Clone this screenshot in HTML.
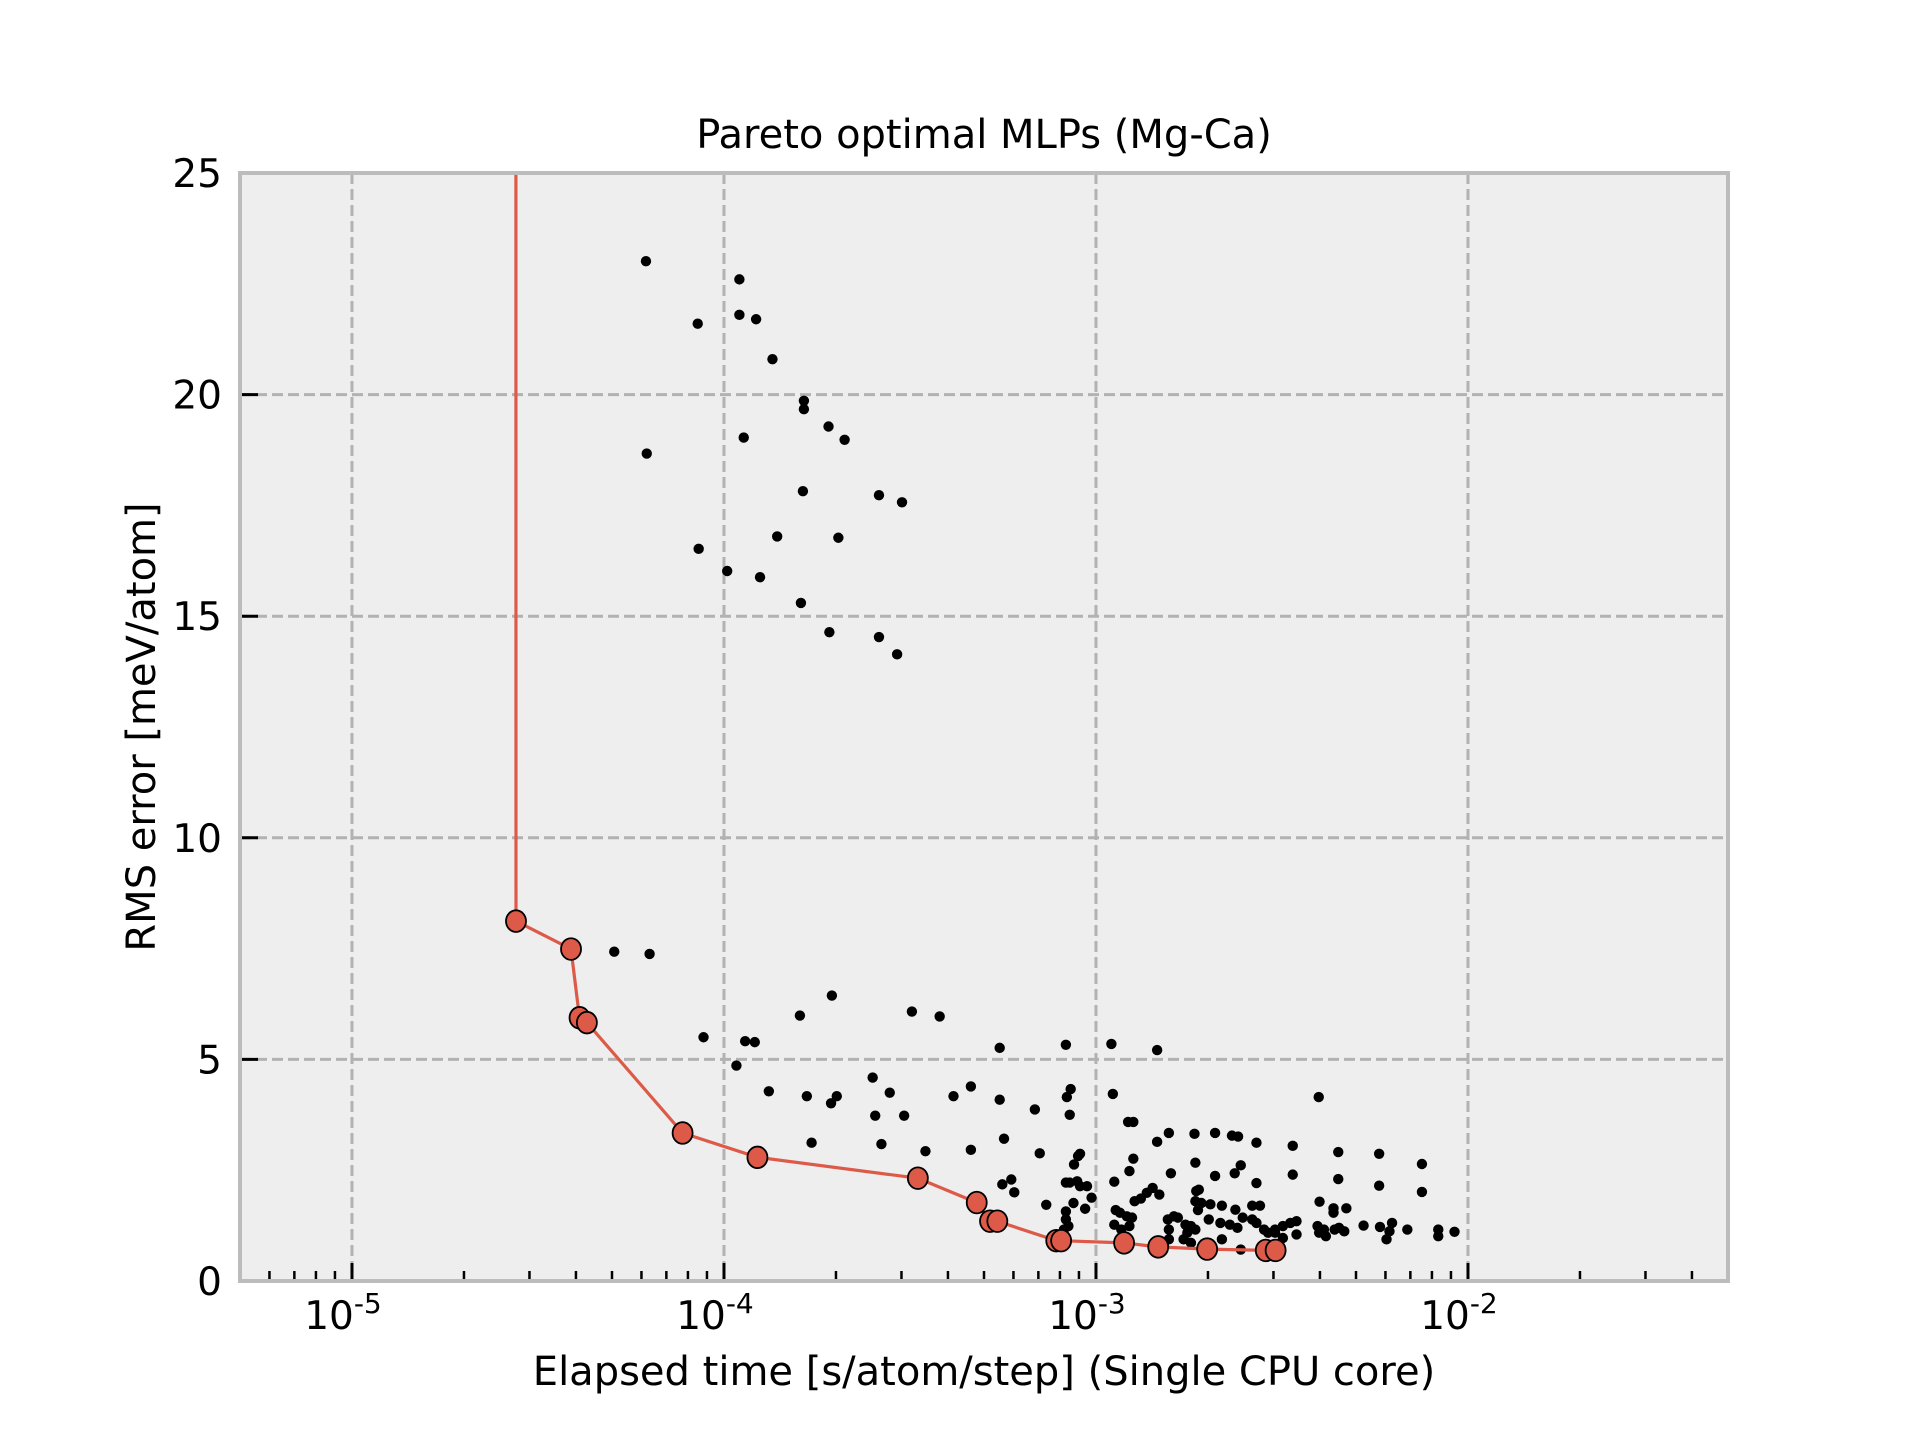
<!DOCTYPE html>
<html><head><meta charset="utf-8"><style>
html,body{margin:0;padding:0;background:#fff;}
svg text{font-family:"DejaVu Sans","Liberation Sans",sans-serif;fill:#000;}
</style></head><body>
<svg id="chart" width="1920" height="1440" viewBox="0 0 1920 1440" xmlns="http://www.w3.org/2000/svg">
<rect x="0" y="0" width="1920" height="1440" fill="#fff"/>
<rect x="240" y="173" width="1488" height="1108" fill="#eeeeee"/>
<g id="grid"></g>
<g id="ticks"></g>
<g id="marks"></g>
<rect x="240" y="173" width="1488" height="1108" fill="none" stroke="#bcbcbc" stroke-width="4"/>
<text x="984" y="148" font-size="40" text-anchor="middle">Pareto optimal MLPs (Mg-Ca)</text>
<text x="984" y="1385" font-size="40" text-anchor="middle">Elapsed time [s/atom/step] (Single CPU core)</text>
<text transform="translate(155,727) rotate(-90)" font-size="40" text-anchor="middle">RMS error [meV/atom]</text>
</svg>
<script>
const scatterTimes = [
6.17e-5,1.10e-4,1.10e-4,1.22e-4,8.5e-5,1.35e-4,1.64e-4,1.64e-4,1.91e-4,1.13e-4,2.11e-4,6.2e-5,1.63e-4,2.61e-4,3.01e-4,1.39e-4,2.03e-4,8.55e-5,1.02e-4,1.25e-4,1.61e-4,1.92e-4,2.61e-4,2.92e-4,
5.07e-5,6.31e-5,8.81e-5,1.95e-4,1.60e-4,3.20e-4,3.80e-4,1.14e-4,1.21e-4,1.08e-4,1.32e-4,1.67e-4,2.01e-4,1.94e-4,2.51e-4,2.79e-4,2.55e-4,2.65e-4,1.72e-4,3.05e-4,3.48e-4,4.14e-4,4.61e-4,4.61e-4,5.51e-4,5.51e-4,
8.3e-4,1.10e-3,1.46e-3,8.55e-4,8.35e-4,8.5e-4,6.85e-4,1.11e-3,1.22e-3,1.26e-3,1.46e-3,1.57e-3,1.84e-3,2.09e-3,2.32e-3,2.41e-3,2.70e-3,3.38e-3,3.97e-3,4.48e-3,5.77e-3,7.52e-3,
7.06e-4,5.66e-4,8.73e-4,8.95e-4,9.06e-4,1.26e-3,1.23e-3,1.85e-3,2.45e-3,2.36e-3,2.09e-3,1.59e-3,2.70e-3,3.38e-3,4.48e-3,5.77e-3,7.52e-3,3.99e-3,4.71e-3,4.35e-3,4.35e-3,
5.92e-4,5.6e-4,6.03e-4,8.3e-4,8.5e-4,8.9e-4,9.06e-4,9.46e-4,9.73e-4,7.35e-4,8.7e-4,9.35e-4,8.3e-4,8.3e-4,8.43e-4,8.2e-4,
1.12e-3,1.13e-3,1.16e-3,1.21e-3,1.25e-3,1.23e-3,1.12e-3,1.17e-3,1.27e-3,1.32e-3,1.37e-3,1.42e-3,1.48e-3,
1.56e-3,1.62e-3,1.66e-3,1.57e-3,1.74e-3,1.80e-3,1.85e-3,1.72e-3,1.80e-3,1.86e-3,1.89e-3,1.85e-3,1.92e-3,1.88e-3,2.03e-3,2.18e-3,2.37e-3,2.48e-3,2.01e-3,2.16e-3,2.29e-3,2.40e-3,2.18e-3,2.03e-3,2.45e-3,
2.63e-3,2.76e-3,2.63e-3,2.70e-3,2.83e-3,2.9e-3,3.03e-3,3.18e-3,3.33e-3,3.46e-3,3.46e-3,3.18e-3,3.03e-3,3.94e-3,3.98e-3,4.1e-3,4.15e-3,4.38e-3,4.5e-3,4.65e-3,5.24e-3,5.8e-3,6.04e-3,6.25e-3,6.15e-3,6.87e-3,8.32e-3,8.32e-3,9.2e-3,1.57e-3,1.76e-3
];
const scatterErrors = [
23.01,22.6,21.8,21.7,21.6,20.8,19.86,19.67,19.28,19.03,18.98,18.67,17.82,17.73,17.57,16.80,16.77,16.52,16.02,15.88,15.30,14.64,14.53,14.14,
7.43,7.38,5.50,6.44,5.99,6.08,5.97,5.41,5.39,4.86,4.28,4.17,4.17,4.01,4.59,4.25,3.73,3.09,3.12,3.73,2.93,4.17,4.39,2.96,5.26,4.09,
5.33,5.35,5.21,4.33,4.15,3.75,3.87,4.22,3.59,3.59,3.14,3.34,3.32,3.34,3.28,3.26,3.12,3.05,4.15,2.91,2.87,2.64,
2.88,3.21,2.63,2.82,2.87,2.76,2.48,2.67,2.61,2.43,2.37,2.43,2.21,2.40,2.30,2.15,2.01,1.79,1.64,1.64,1.54,
2.29,2.18,2.00,2.22,2.22,2.25,2.14,2.14,1.88,1.72,1.76,1.63,1.57,1.39,1.24,1.16,
2.24,1.60,1.54,1.46,1.43,1.24,1.27,1.16,1.80,1.86,1.99,2.10,1.95,
1.39,1.46,1.43,1.16,1.27,1.24,1.16,0.94,0.86,2.03,2.06,1.80,1.76,1.60,1.73,1.70,1.61,1.43,1.39,1.31,1.27,1.20,0.94,0.82,0.71,
1.70,1.70,1.39,1.31,1.16,1.09,1.16,1.24,1.31,1.35,1.05,0.97,1.09,1.24,1.09,1.16,1.01,1.16,1.20,1.12,1.25,1.22,0.94,1.31,1.12,1.16,1.16,1.01,1.11,0.94,1.09
];
const paretoTimes = [2.68e-5,2.76e-5,3.88e-5,4.09e-5,4.28e-5,7.74e-5,1.23e-4,3.32e-4,4.78e-4,5.19e-4,5.43e-4,7.82e-4,8.06e-4,1.19e-3,1.47e-3,1.99e-3,2.86e-3,3.04e-3];
const paretoErrors = [1000,8.12,7.49,5.94,5.83,3.34,2.79,2.32,1.77,1.35,1.35,0.91,0.91,0.86,0.77,0.72,0.69,0.69];
const xTickExps = [-5,-4,-3,-2];
const yTickValues = [0,5,10,15,20,25];

const L=240,R=1728,T=173,B=1281;
const XMIN=Math.log10(5e-6),XMAX=Math.log10(5e-2),YMIN=0,YMAX=25;
const NS="http://www.w3.org/2000/svg";
function xs(v){return L+(Math.log10(v)-XMIN)/(XMAX-XMIN)*(R-L);}
function ys(v){return B-(v-YMIN)/(YMAX-YMIN)*(B-T);}
function mk(tag,attrs,parent){const e=document.createElementNS(NS,tag);for(const k in attrs)e.setAttribute(k,attrs[k]);parent.appendChild(e);return e;}
const grid=document.getElementById('grid'),ticks=document.getElementById('ticks'),marks=document.getElementById('marks');

xTickExps.forEach(p=>{
  const x=xs(Math.pow(10,p));
  const g=mk('line',{x1:x,x2:x,y1:T,y2:B,stroke:'#b2b2b2','stroke-width':3,'stroke-dasharray':'11 5'},grid);
  
  
  const t=mk('line',{x1:x,x2:x,y1:B,y2:B-18,stroke:'#000','stroke-width':3},ticks);
  
  
  const lab=mk('text',{x:x-9,y:1329,'font-size':39,'text-anchor':'middle'},ticks);
  
  
  lab.textContent='10';
  const sup=mk('tspan',{dy:-16,'font-size':28},lab);
  sup.textContent=String(p);
});
for(let p=-6;p<=-2;p++){
  for(let m=2;m<=9;m++){
    const v=m*Math.pow(10,p);
    if(Math.log10(v)<XMIN||Math.log10(v)>XMAX)continue;
    const x=xs(v);
    const t=mk('line',{x1:x,x2:x,y1:B,y2:B-10,stroke:'#000','stroke-width':2.5},ticks);
    
    
  }
}
yTickValues.forEach(v=>{
  const y=ys(v);
  if(v>YMIN&&v<YMAX){
    const g=mk('line',{x1:L,x2:R,y1:y,y2:y,stroke:'#b2b2b2','stroke-width':3,'stroke-dasharray':'11 5'},grid);
    
    
  }
  const t=mk('line',{x1:L,x2:L+18,y1:y,y2:y,stroke:'#000','stroke-width':3},ticks);
  
  
  const lab=mk('text',{x:222,y:y+14,'font-size':39,'text-anchor':'end'},ticks);
  
  
  lab.textContent=String(v);
});

const clip=mk('clipPath',{id:'plotclip'},document.getElementById('chart'));
mk('rect',{x:L,y:T,width:R-L,height:B-T},clip);

scatterTimes.forEach((t,i)=>{
  const c=mk('circle',{cx:xs(t),cy:ys(scatterErrors[i]),r:5.2,fill:'#000'},marks);
  
  
});
const pts=paretoTimes.map((t,i)=>xs(t).toFixed(1)+','+ys(paretoErrors[i]).toFixed(1)).join(' ');
const line=mk('polyline',{points:pts,fill:'none',stroke:'#dd5a48','stroke-width':3.2,'clip-path':'url(#plotclip)'},marks);


paretoTimes.forEach((t,i)=>{
  if(paretoErrors[i]>YMAX)return;
  const c=mk('ellipse',{cx:xs(t),cy:ys(paretoErrors[i]),rx:10,ry:10.8,fill:'#dd5a48',stroke:'#000','stroke-width':1.8},marks);
  
  
});
</script>
</body></html>
